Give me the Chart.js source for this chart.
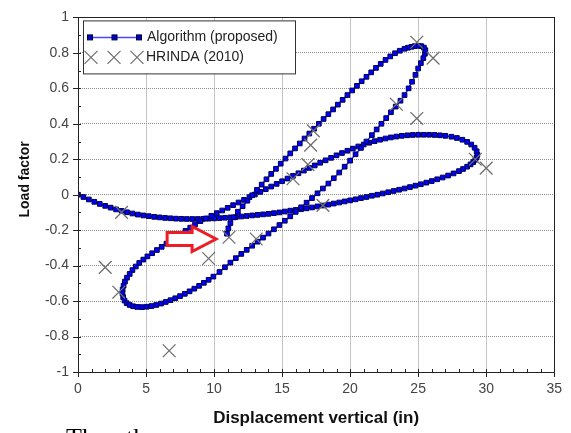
<!DOCTYPE html>
<html>
<head>
<meta charset="utf-8">
<script src="https://cdn.jsdelivr.net/npm/chart.js@4.4.1/dist/chart.umd.min.js"></script>
<style>
  html, body { margin: 0; padding: 0; background: #fff; overflow: hidden; }
  #wrap { position: relative; width: 571px; height: 433px; overflow: hidden; }
  #caption { position: absolute; left: 66px; top: 425px; font: 26px "Liberation Serif", serif; color: #000; line-height: 1; white-space: nowrap; }
</style>
</head>
<body>
<div id="wrap">
  <canvas id="chart" width="571" height="433"></canvas>
  <div id="caption">Then the</div>
</div>
<script>
// axis ranges
const xMin = 0, xMax = 35, xStep = 5;
const yMin = -1, yMax = 1, yStep = 0.2;
const xTitle = 'Displacement vertical (in)';
const yTitle = 'Load factor';

// Algorithm (proposed), in path order
const algoOutward = [[0,0],[0.4,-0.013],[0.8,-0.027],[1.2,-0.04],[1.6,-0.052],[2.0,-0.063],[2.4,-0.073],[2.8,-0.083],
  [3.2,-0.091],[3.6,-0.099],[4.0,-0.106],[4.4,-0.112],[4.8,-0.117],[5.2,-0.121],[5.6,-0.125],[6.0,-0.128],[6.4,-0.131],
  [6.8,-0.133],[7.2,-0.135],[7.6,-0.136],[8.0,-0.137],[8.4,-0.137],[8.8,-0.137],[9.2,-0.136],[9.6,-0.135],[10.0,-0.134],
  [10.4,-0.132],[10.8,-0.130],[11.2,-0.128],[11.6,-0.126],[12.0,-0.123],[12.4,-0.120],[12.8,-0.117],[13.2,-0.114],
  [13.6,-0.111],[14.0,-0.108],[14.4,-0.104],[14.8,-0.100],[15.2,-0.095],[15.6,-0.090],[16.0,-0.086],[16.4,-0.082],
  [16.8,-0.077],[17.2,-0.072],[17.6,-0.066],[18.0,-0.061],[18.4,-0.056],[18.8,-0.050],[19.2,-0.044],[19.6,-0.038],
  [20.0,-0.032],[20.4,-0.026],[20.8,-0.019],[21.2,-0.013],[21.6,-0.006],[22.0,0.000],[22.4,0.007],[22.8,0.014],
  [23.2,0.021],[23.6,0.028],[24.0,0.035],[24.4,0.043],[24.8,0.051],[25.2,0.059],[25.6,0.068],[26.0,0.077],[26.4,0.087],
  [26.8,0.097],[27.2,0.108],[27.6,0.120],[28.0,0.133],[28.3,0.145],[28.6,0.158],[28.85,0.171],[29.05,0.184],[29.2,0.197],[29.3,0.21]];

const algoReturn = [[29.35,0.225],[29.3,0.245],[29.15,0.265],[28.9,0.283],[28.6,0.298],[28.25,0.31],[27.85,0.32],
  [27.45,0.327],[27.0,0.332],[26.6,0.335],[26.2,0.337],[25.8,0.338],[25.4,0.338],[25.0,0.338],[24.6,0.337],[24.2,0.335],
  [23.8,0.332],[23.4,0.328],[23.0,0.323],[22.6,0.317],[22.2,0.31],[21.8,0.302],[21.4,0.293],[21.0,0.283],[20.6,0.272],
  [20.2,0.26],[19.8,0.248],[19.4,0.235],[19.0,0.222],[18.6,0.208],[18.2,0.194],[17.8,0.18],[17.4,0.165],[17.0,0.151],
  [16.6,0.136],[16.2,0.121],[15.8,0.106],[15.4,0.091],[15.0,0.076],[14.6,0.061],[14.2,0.046],[13.8,0.031],[13.4,0.016],
  [13.0,0.001],[12.6,-0.014],[12.2,-0.029],[11.8,-0.044],[11.4,-0.059],[11.0,-0.074],[10.6,-0.089],[10.2,-0.104],
  [9.8,-0.119],[9.4,-0.134],[9.0,-0.149]];

const algoLeftLoop = [[8.6,-0.168],[8.25,-0.186],[7.9,-0.204],[7.55,-0.222],[7.2,-0.24],[6.85,-0.258],[6.5,-0.276],
  [6.15,-0.294],[5.8,-0.312],[5.45,-0.33],[5.1,-0.348],[4.8,-0.366],[4.5,-0.385],[4.25,-0.405],[4.0,-0.425],[3.8,-0.447],
  [3.6,-0.468],[3.45,-0.49],[3.35,-0.513],[3.28,-0.535],[3.27,-0.557],[3.32,-0.578],[3.42,-0.597],[3.58,-0.612],
  [3.8,-0.622],[4.05,-0.629],[4.35,-0.633],[4.7,-0.634],[5.05,-0.632],[5.4,-0.628],[5.75,-0.622],[6.1,-0.614],
  [6.45,-0.605],[6.8,-0.595],[7.15,-0.584],[7.5,-0.572],[7.85,-0.559],[8.2,-0.545],[8.55,-0.53],[8.9,-0.514],
  [9.25,-0.497],[9.6,-0.48],[9.95,-0.462]];

const algoRise = [[10.4,-0.436],[10.8,-0.409],[11.2,-0.383],[11.6,-0.358],[12.0,-0.334],[12.4,-0.311],[12.8,-0.288],
  [13.2,-0.265],[13.6,-0.242],[14.0,-0.219],[14.4,-0.195],[14.8,-0.171],[15.2,-0.147],[15.6,-0.122],[16.0,-0.097],
  [16.4,-0.071],[16.8,-0.045],[17.2,-0.019],[17.6,0.008],[18.0,0.035],[18.4,0.063],[18.8,0.093],[19.2,0.125],
  [19.6,0.158],[20.0,0.192],[20.4,0.228],[20.8,0.264],[21.2,0.3],[21.6,0.336],[21.95,0.368],[22.3,0.4],[22.65,0.432],
  [23.0,0.465],[23.35,0.497],[23.7,0.53],[24.0,0.562],[24.3,0.6],[24.55,0.637],[24.8,0.676],[25.0,0.712],[25.2,0.742],
  [25.38,0.77],[25.5,0.795]];

const algoTip = [[25.53,0.815],[25.42,0.83],[25.22,0.838],[25.0,0.84],[24.75,0.838],[24.5,0.834],[24.25,0.829]];

const algoDescent = [[24.0,0.823],[23.65,0.812],[23.3,0.798],[22.95,0.78],[22.6,0.76],[22.25,0.738],[21.9,0.715],
  [21.55,0.69],[21.2,0.665],[20.85,0.64],[20.5,0.614],[20.15,0.588],[19.8,0.562],[19.45,0.535],[19.1,0.508],
  [18.75,0.481],[18.4,0.454],[18.05,0.427],[17.7,0.4],[17.35,0.372],[17.0,0.345],[16.65,0.317],[16.3,0.289],
  [15.95,0.261],[15.6,0.233],[15.25,0.204],[14.9,0.175],[14.55,0.146],[14.2,0.117],[13.85,0.087],[13.5,0.057],
  [13.15,0.027],[12.8,-0.003],[12.45,-0.034],[12.1,-0.065],[11.75,-0.096],[11.45,-0.128],[11.2,-0.16],[11.05,-0.19],
  [10.95,-0.22]];

// HRINDA (2010)
const hrindaX = [2.0, 3.2, 3.0, 6.7, 9.6, 11.1, 13.1, 15.8, 16.9, 17.1, 17.3, 18.0, 23.4, 24.9, 24.9, 26.1, 29.2, 30.0];
const hrindaY = [-0.41, -0.10, -0.55, -0.88, -0.36, -0.24, -0.25, 0.09, 0.17, 0.28, 0.36, -0.06, 0.51, 0.43, 0.86, 0.77, 0.20, 0.15];

// red arrow annotation (data units)
const arrowTip = { x: 10.15, y: -0.25 };
const arrowTailX = 6.55;

const algoPts = [...algoOutward, ...algoReturn, ...algoLeftLoop, ...algoRise, ...algoTip, ...algoDescent]
  .map(p => ({ x: p[0], y: p[1] }));
const hrindaPts = hrindaX.map((x, i) => ({ x: x, y: hrindaY[i] }));

const tickFont = { family: '"Liberation Sans", Arial, sans-serif', size: 14 };
const fmt = v => String(Number(v.toFixed(1)));

function drawX(ctx, cx, cy, h) {
    ctx.moveTo(cx - h, cy - h); ctx.lineTo(cx + h, cy + h);
    ctx.moveTo(cx - h, cy + h); ctx.lineTo(cx + h, cy - h);
}

const overlay = {
    id: 'overlay',
    afterDraw(chart) {
        const { ctx, chartArea: a, scales } = chart;
        const x = scales.x, y = scales.y;
        ctx.save();

        // arrow
        const tx = x.getPixelForValue(arrowTip.x), ty = y.getPixelForValue(arrowTip.y);
        const sx = x.getPixelForValue(arrowTailX);
        const hb = tx - 24;
        ctx.beginPath();
        ctx.moveTo(sx, ty - 6.5); ctx.lineTo(hb, ty - 6.5); ctx.lineTo(hb, ty - 12.5);
        ctx.lineTo(tx, ty); ctx.lineTo(hb, ty + 12.5); ctx.lineTo(hb, ty + 6.5);
        ctx.lineTo(sx, ty + 6.5); ctx.closePath();
        ctx.fillStyle = '#fff'; ctx.fill();
        ctx.lineWidth = 3; ctx.strokeStyle = '#ee1c24'; ctx.lineJoin = 'miter'; ctx.stroke();

        // frame and ticks
        ctx.strokeStyle = '#222'; ctx.lineWidth = 1;
        ctx.beginPath();
        for (let v = xMin; v <= xMax; v += 1) {
            const px = Math.round(x.getPixelForValue(v)) + 0.5;
            ctx.moveTo(px, a.bottom + (v % xStep === 0 ? 5 : 0));
            ctx.lineTo(px, a.bottom - 3);
        }
        for (let i = 0; i <= 20; i++) {
            const py = Math.round(y.getPixelForValue(yMin + i * 0.1)) + 0.5;
            ctx.moveTo(a.left - (i % 2 === 0 ? 5 : 0), py);
            ctx.lineTo(a.left + 3, py);
        }
        ctx.stroke();
        ctx.strokeRect(Math.round(a.left) + 0.5, Math.round(a.top) + 0.5,
            Math.round(a.right - a.left), Math.round(a.bottom - a.top));

        // legend
        const lx = a.left + 5, ly = a.top + 3;
        ctx.fillStyle = '#fff';
        ctx.fillRect(lx, ly, 212, 53);
        ctx.strokeStyle = '#333';
        ctx.strokeRect(lx + 0.5, ly + 0.5, 212, 53);
        ctx.strokeStyle = '#4a4aff'; ctx.lineWidth = 1.5;
        ctx.beginPath(); ctx.moveTo(lx + 7, ly + 17); ctx.lineTo(lx + 56, ly + 17); ctx.stroke();
        [7, 31.5, 56].forEach(d => {
            ctx.fillStyle = '#0000cc'; ctx.fillRect(lx + d - 2.5, ly + 14.5, 5, 5);
            ctx.strokeStyle = '#000033'; ctx.lineWidth = 1; ctx.strokeRect(lx + d - 2.5, ly + 14.5, 5, 5);
        });
        ctx.strokeStyle = '#6f6f6f'; ctx.lineWidth = 1.2;
        ctx.beginPath();
        [8, 31, 54].forEach(d => drawX(ctx, lx + d, ly + 37, 6.5));
        ctx.stroke();
        ctx.fillStyle = '#222';
        ctx.font = '14px "Liberation Sans", Arial, sans-serif';
        ctx.textAlign = 'left'; ctx.textBaseline = 'middle';
        ctx.fillText('Algorithm (proposed)', lx + 64, ly + 17);
        ctx.fillText('HRINDA (2010)', lx + 63, ly + 37);

        // axis titles
        ctx.fillStyle = '#111';
        ctx.textAlign = 'center';
        ctx.font = 'bold 17px "Liberation Sans", Arial, sans-serif';
        ctx.fillText(xTitle, (a.left + a.right) / 2, a.bottom + 46);
        ctx.translate(25, a.top + 162);
        ctx.rotate(-Math.PI / 2);
        ctx.font = 'bold 14px "Liberation Sans", Arial, sans-serif';
        ctx.fillText(yTitle, 0, 0);
        ctx.restore();
    }
};

new Chart(document.getElementById('chart'), {
    type: 'scatter',
    data: {
        datasets: [
            {
                label: 'HRINDA (2010)',
                data: hrindaPts,
                showLine: false,
                pointStyle: 'crossRot',
                pointRadius: 9,
                pointBorderWidth: 1.3,
                borderColor: '#6f6f6f',
                backgroundColor: 'rgba(0,0,0,0)',
                order: 0
            },
            {
                label: 'Algorithm (proposed)',
                data: algoPts,
                showLine: true,
                tension: 0,
                borderColor: '#3030ff',
                borderWidth: 1.5,
                pointStyle: 'rect',
                pointRadius: 3.3,
                pointBackgroundColor: '#0000ff',
                pointBorderColor: '#00004a',
                pointBorderWidth: 1,
                order: 1
            }
        ]
    },
    options: {
        responsive: false,
        animation: false,
        devicePixelRatio: 1,
        events: [],
        layout: { padding: { top: 12, right: 15, left: 0, bottom: 0 } },
        plugins: { legend: { display: false }, tooltip: { enabled: false } },
        scales: {
            x: {
                type: 'linear', min: xMin, max: xMax,
                afterFit: s => { s.height = 61; },
                ticks: { stepSize: xStep, padding: 9, color: '#444', font: tickFont, maxRotation: 0, callback: fmt },
                grid: { color: '#8c8c8c', drawTicks: false },
                border: { display: false, dash: [1, 1] }
            },
            y: {
                type: 'linear', min: yMin, max: yMax,
                afterFit: s => { s.width = 78; },
                ticks: { stepSize: yStep, padding: 9, color: '#444', font: tickFont, callback: fmt },
                grid: { color: '#8c8c8c', drawTicks: false },
                border: { display: false, dash: [1, 1] }
            }
        }
    },
    plugins: [overlay]
});
</script>
</body>
</html>
